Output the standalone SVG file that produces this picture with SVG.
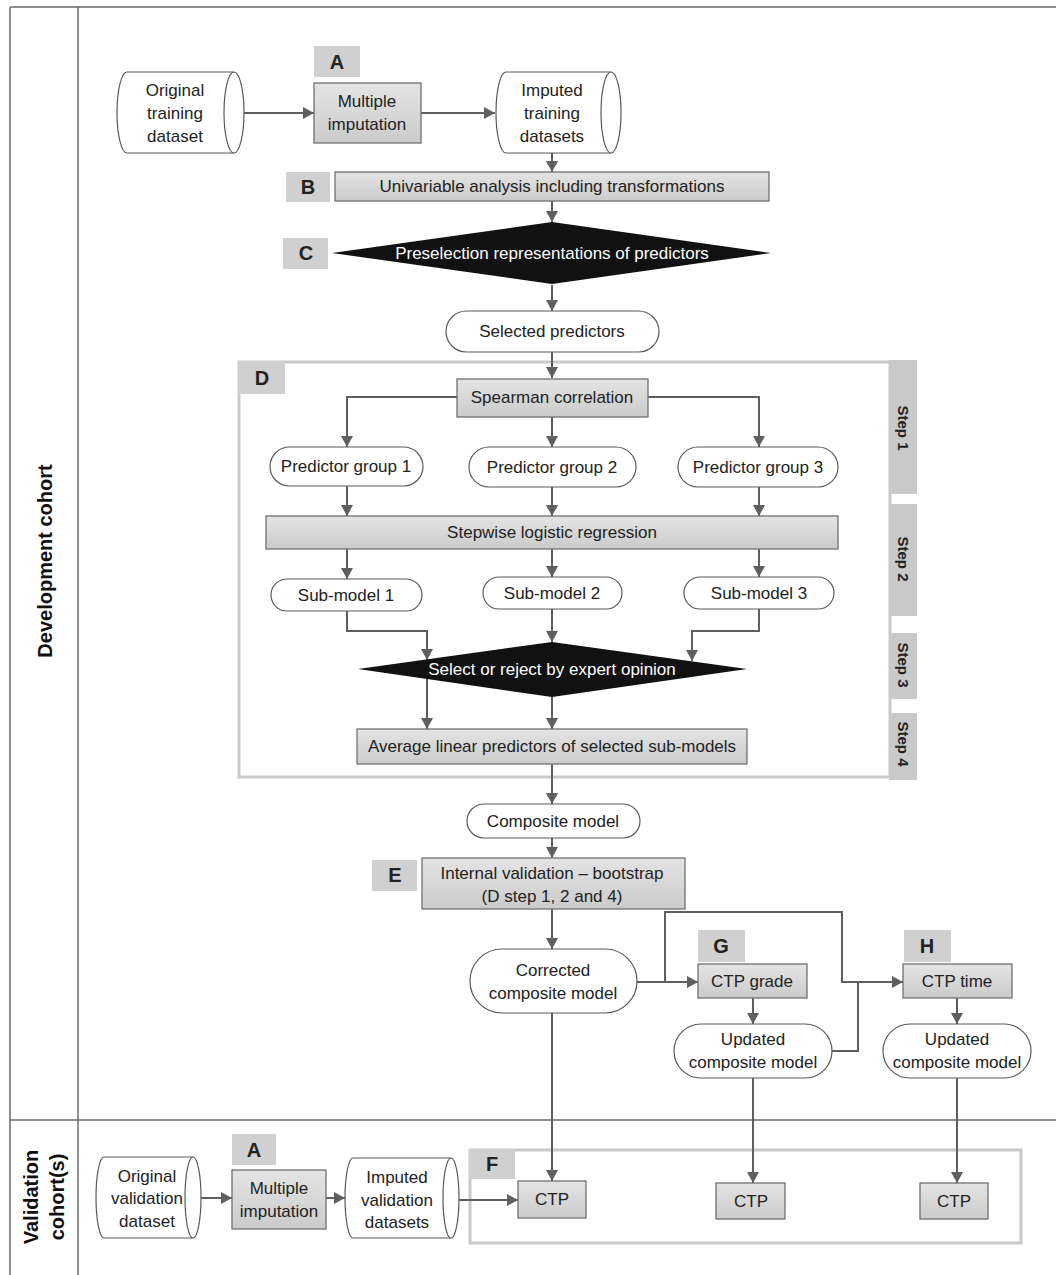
<svg xmlns="http://www.w3.org/2000/svg" width="1056" height="1275" viewBox="0 0 1056 1275">
<defs>
  <linearGradient id="g" x1="0" y1="0" x2="0" y2="1">
    <stop offset="0" stop-color="#e4e4e4"/>
    <stop offset="1" stop-color="#cbcbcb"/>
  </linearGradient>
  <marker id="ah" markerUnits="userSpaceOnUse" markerWidth="12" markerHeight="12" refX="11" refY="6" orient="auto">
    <path d="M0,0 L11,6 L0,12 z" fill="#5f5f5f"/>
  </marker>
</defs>
<style>
  .frame{fill:none;stroke:#6a6a6a;stroke-width:1.5}
  .box{fill:url(#g);stroke:#707070;stroke-width:1.3}
  .lbl{fill:#d0d0d0}
  .pill{fill:#ffffff;stroke:#5a5a5a;stroke-width:1.2}
  .cyl{fill:#ffffff;stroke:#5a5a5a;stroke-width:1.2}
  .dia{fill:#111111}
  .cont{fill:none;stroke:#c9c9c9;stroke-width:3}
  .step{fill:#c9c9c9}
  .conn{fill:none;stroke:#5f5f5f;stroke-width:2}
  .arr{marker-end:url(#ah)}
  text{font-family:"Liberation Sans",Arial,sans-serif;font-size:17px;fill:#222;text-anchor:middle;dominant-baseline:central}
  .tb{font-weight:bold;font-size:20px}
  .tw{fill:#ffffff}
  .side{font-weight:bold;font-size:20px;fill:#111}
  .stp{font-weight:bold;font-size:15px;fill:#222}
</style>

<!-- frame / swimlanes -->
<g id="frame">
  <line class="frame" x1="10" y1="7" x2="1056" y2="7"/>
  <line class="frame" x1="10" y1="7" x2="10" y2="1275"/>
  <line class="frame" x1="78" y1="7" x2="78" y2="1275"/>
  <line class="frame" x1="10" y1="1120" x2="1056" y2="1120"/>
  <text class="side" transform="translate(45,561) rotate(-90)">Development cohort</text>
  <text class="side" transform="translate(31,1197) rotate(-90)">Validation</text>
  <text class="side" transform="translate(57,1197) rotate(-90)">cohort(s)</text>
</g>

<!-- containers -->
<g id="containerD">
  <rect class="cont" x="239" y="362" width="651" height="415"/>
  <rect class="lbl" x="238" y="361" width="47" height="33"/>
  <text class="tb" x="262" y="378">D</text>
  <rect class="step" x="889" y="360" width="28" height="134"/>
  <rect class="step" x="889" y="504" width="28" height="112"/>
  <rect class="step" x="889" y="633" width="28" height="66"/>
  <rect class="step" x="889" y="713" width="28" height="67"/>
  <text class="stp" transform="translate(903,428) rotate(90)">Step 1</text>
  <text class="stp" transform="translate(903,559) rotate(90)">Step 2</text>
  <text class="stp" transform="translate(903,665) rotate(90)">Step 3</text>
  <text class="stp" transform="translate(903,744) rotate(90)">Step 4</text>
</g>
<g id="containerF">
  <rect class="cont" x="470" y="1150" width="551" height="93"/>
  <rect class="lbl" x="469" y="1149" width="46" height="30"/>
  <text class="tb" x="492" y="1164">F</text>
</g>

<!-- connectors -->
<g id="connectors">
  <line class="conn arr" x1="236" y1="113" x2="314" y2="113"/>
  <line class="conn arr" x1="421" y1="113" x2="495" y2="113"/>
  <line class="conn arr" x1="552" y1="153" x2="552" y2="172"/>
  <line class="conn arr" x1="552" y1="201" x2="552" y2="222"/>
  <line class="conn arr" x1="552" y1="285" x2="552" y2="311"/>
  <line class="conn arr" x1="552" y1="352" x2="552" y2="378"/>
  <polyline class="conn arr" points="457,397 347,397 347,447"/>
  <line class="conn arr" x1="552" y1="417" x2="552" y2="447"/>
  <polyline class="conn arr" points="648,397 759,397 759,447"/>
  <line class="conn arr" x1="347" y1="486" x2="347" y2="516"/>
  <line class="conn arr" x1="552" y1="487" x2="552" y2="516"/>
  <line class="conn arr" x1="759" y1="487" x2="759" y2="516"/>
  <line class="conn arr" x1="347" y1="549" x2="347" y2="579"/>
  <line class="conn arr" x1="552" y1="549" x2="552" y2="577"/>
  <line class="conn arr" x1="759" y1="549" x2="759" y2="577"/>
  <polyline class="conn arr" points="347,611 347,631 427,631 427,660"/>
  <line class="conn arr" x1="552" y1="609" x2="552" y2="642"/>
  <polyline class="conn arr" points="759,609 759,631 692,631 692,661"/>
  <line class="conn arr" x1="427" y1="679" x2="427" y2="729"/>
  <line class="conn arr" x1="552" y1="697" x2="552" y2="729"/>
  <line class="conn arr" x1="552" y1="764" x2="552" y2="804"/>
  <line class="conn arr" x1="552" y1="838" x2="552" y2="858"/>
  <line class="conn arr" x1="552" y1="909" x2="552" y2="949"/>
  <line class="conn arr" x1="637" y1="982" x2="698" y2="982"/>
  <polyline class="conn arr" points="665,982 665,912 842,912 842,982 903,982"/>
  <polyline class="conn" points="832,1051 858,1051 858,982"/>
  <line class="conn arr" x1="753" y1="998" x2="753" y2="1024"/>
  <line class="conn arr" x1="957" y1="998" x2="957" y2="1024"/>
  <line class="conn arr" x1="552" y1="1013" x2="552" y2="1181"/>
  <line class="conn arr" x1="753" y1="1078" x2="753" y2="1183"/>
  <line class="conn arr" x1="957" y1="1078" x2="957" y2="1183"/>
  <line class="conn arr" x1="196" y1="1198" x2="232" y2="1198"/>
  <line class="conn arr" x1="326" y1="1198" x2="345" y2="1198"/>
  <line class="conn arr" x1="459" y1="1200" x2="518" y2="1200"/>
</g>

<!-- development nodes -->
<g id="orig_train">
  <path class="cyl" d="M127,72 H234 A10,40.5 0 0 1 234,153 H127 A10,40.5 0 0 1 127,72 Z"/>
  <path class="cyl" d="M234,72 A10,40.5 0 0 0 234,153"/>
  <text x="175" y="90">Original</text>
  <text x="175" y="113">training</text>
  <text x="175" y="136">dataset</text>
</g>
<g id="labelA1">
  <rect class="lbl" x="314" y="46" width="46" height="31"/>
  <text class="tb" x="337" y="62">A</text>
</g>
<g id="mi_train">
  <rect class="box" x="314" y="83" width="107" height="60"/>
  <text x="367" y="101">Multiple</text>
  <text x="367" y="124">imputation</text>
</g>
<g id="imp_train">
  <path class="cyl" d="M506,72 H611 A10,40.5 0 0 1 611,153 H506 A10,40.5 0 0 1 506,72 Z"/>
  <path class="cyl" d="M611,72 A10,40.5 0 0 0 611,153"/>
  <text x="552" y="90">Imputed</text>
  <text x="552" y="113">training</text>
  <text x="552" y="136">datasets</text>
</g>
<g id="nodeB">
  <rect class="lbl" x="286" y="172" width="44" height="30"/>
  <text class="tb" x="308" y="187">B</text>
  <rect class="box" x="335" y="172" width="434" height="29"/>
  <text x="552" y="186">Univariable analysis including transformations</text>
</g>
<g id="nodeC">
  <rect class="lbl" x="283" y="238" width="45" height="31"/>
  <text class="tb" x="306" y="253">C</text>
  <polygon class="dia" points="332,253 552,222 771,253 552,284"/>
  <text class="tw" x="552" y="253">Preselection representations of predictors</text>
</g>
<g id="selected">
  <rect class="pill" x="446" y="311" width="213" height="41" rx="20.5"/>
  <text x="552" y="331">Selected predictors</text>
</g>
<g id="spearman">
  <rect class="box" x="457" y="379" width="191" height="38"/>
  <text x="552" y="397">Spearman correlation</text>
</g>
<g id="pg1">
  <rect class="pill" x="270" y="447" width="153" height="39" rx="19.5"/>
  <text x="346" y="466">Predictor group 1</text>
</g>
<g id="pg2">
  <rect class="pill" x="469" y="447" width="167" height="40" rx="20"/>
  <text x="552" y="467">Predictor group 2</text>
</g>
<g id="pg3">
  <rect class="pill" x="678" y="447" width="160" height="40" rx="20"/>
  <text x="758" y="467">Predictor group 3</text>
</g>
<g id="stepwise">
  <rect class="box" x="266" y="516" width="572" height="33"/>
  <text x="552" y="532">Stepwise logistic regression</text>
</g>
<g id="sm1">
  <rect class="pill" x="271" y="579" width="151" height="32" rx="16"/>
  <text x="346" y="595">Sub-model 1</text>
</g>
<g id="sm2">
  <rect class="pill" x="483" y="577" width="139" height="32" rx="16"/>
  <text x="552" y="593">Sub-model 2</text>
</g>
<g id="sm3">
  <rect class="pill" x="684" y="577" width="150" height="32" rx="16"/>
  <text x="759" y="593">Sub-model 3</text>
</g>
<g id="expert">
  <polygon class="dia" points="358,669 552,642 747,669 552,697"/>
  <text class="tw" x="552" y="669">Select or reject by expert opinion</text>
</g>
<g id="average">
  <rect class="box" x="357" y="729" width="390" height="35"/>
  <text x="552" y="746">Average linear predictors of selected sub-models</text>
</g>
<g id="composite">
  <rect class="pill" x="467" y="804" width="173" height="34" rx="17"/>
  <text x="553" y="821">Composite model</text>
</g>
<g id="nodeE">
  <rect class="lbl" x="372" y="860" width="45" height="31"/>
  <text class="tb" x="395" y="875">E</text>
  <rect class="box" x="422" y="858" width="263" height="51"/>
  <text x="552" y="873">Internal validation – bootstrap</text>
  <text x="552" y="896">(D step 1, 2 and 4)</text>
</g>
<g id="corrected">
  <rect class="pill" x="470" y="949" width="167" height="64" rx="32"/>
  <text x="553" y="970">Corrected</text>
  <text x="553" y="993">composite model</text>
</g>
<g id="nodeG">
  <rect class="lbl" x="698" y="930" width="47" height="32"/>
  <text class="tb" x="721" y="946">G</text>
  <rect class="box" x="698" y="964" width="109" height="34"/>
  <text x="752" y="981">CTP grade</text>
</g>
<g id="updatedG">
  <rect class="pill" x="674" y="1024" width="158" height="54" rx="27"/>
  <text x="753" y="1039">Updated</text>
  <text x="753" y="1062">composite model</text>
</g>
<g id="nodeH">
  <rect class="lbl" x="904" y="930" width="47" height="32"/>
  <text class="tb" x="927" y="946">H</text>
  <rect class="box" x="903" y="964" width="109" height="34"/>
  <text x="957" y="981">CTP time</text>
</g>
<g id="updatedH">
  <rect class="pill" x="883" y="1024" width="148" height="54" rx="27"/>
  <text x="957" y="1039">Updated</text>
  <text x="957" y="1062">composite model</text>
</g>

<!-- validation nodes -->
<g id="orig_valid">
  <path class="cyl" d="M104,1157 H193 A8,40.5 0 0 1 193,1238 H104 A8,40.5 0 0 1 104,1157 Z"/>
  <path class="cyl" d="M193,1157 A8,40.5 0 0 0 193,1238"/>
  <text x="147" y="1176">Original</text>
  <text x="147" y="1198">validation</text>
  <text x="147" y="1221">dataset</text>
</g>
<g id="labelA2">
  <rect class="lbl" x="232" y="1134" width="44" height="31"/>
  <text class="tb" x="254" y="1150">A</text>
</g>
<g id="mi_valid">
  <rect class="box" x="232" y="1170" width="94" height="59"/>
  <text x="279" y="1188">Multiple</text>
  <text x="279" y="1211">imputation</text>
</g>
<g id="imp_valid">
  <path class="cyl" d="M353,1158 H451 A8,40 0 0 1 451,1238 H353 A8,40 0 0 1 353,1158 Z"/>
  <path class="cyl" d="M451,1158 A8,40 0 0 0 451,1238"/>
  <text x="397" y="1177">Imputed</text>
  <text x="397" y="1200">validation</text>
  <text x="397" y="1222">datasets</text>
</g>
<g id="ctp1">
  <rect class="box" x="518" y="1181" width="68" height="37"/>
  <text x="552" y="1199">CTP</text>
</g>
<g id="ctp2">
  <rect class="box" x="716" y="1183" width="69" height="36"/>
  <text x="751" y="1201">CTP</text>
</g>
<g id="ctp3">
  <rect class="box" x="920" y="1183" width="68" height="36"/>
  <text x="954" y="1201">CTP</text>
</g>
</svg>
